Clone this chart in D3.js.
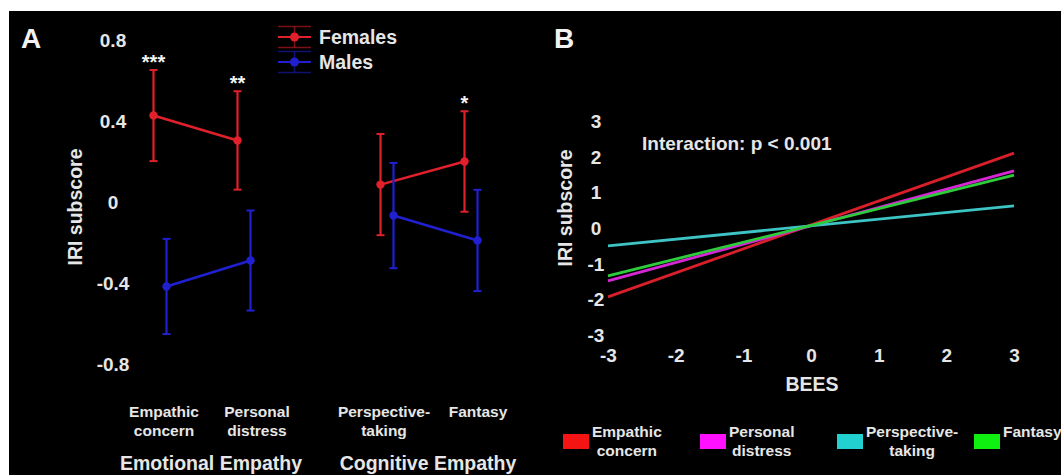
<!DOCTYPE html>
<html>
<head>
<meta charset="utf-8">
<script src="https://cdn.jsdelivr.net/npm/d3@7"></script>
<style>
  html, body { margin: 0; padding: 0; background: #fff; }
  svg text { font-family: 'Liberation Sans', Arial, sans-serif; font-weight: bold; fill: #e6e6e6; }
</style>
</head>
<body>
<svg id="chart" width="1061" height="475"></svg>
<script>
// panel A data
const categories = ['Empathic concern', 'Personal distress', 'Perspective-taking', 'Fantasy'];
const categoryLines = [['Empathic', 'concern'], ['Personal', 'distress'], ['Perspective-', 'taking'], ['Fantasy']];
const categoryGroup = ['Emotional Empathy', 'Emotional Empathy', 'Cognitive Empathy', 'Cognitive Empathy'];
const groups = ['Emotional Empathy', 'Cognitive Empathy'];
const femaleMeans = [0.427, 0.304, 0.086, 0.200];
const femaleErr = [0.225, 0.243, 0.250, 0.248];
const maleMeans = [-0.417, -0.289, -0.067, -0.190];
const maleErr = [0.235, 0.247, 0.260, 0.250];
const stars = ['***', '**', '', '*'];
const yTicksA = [0.8, 0.4, 0, -0.4, -0.8];

// panel B data
const beesRange = [-3, 3];
const subscales = ['Empathic concern', 'Personal distress', 'Perspective-taking', 'Fantasy'];
const subscaleLines = [['Empathic', 'concern'], ['Personal', 'distress'], ['Perspective-', 'taking'], ['Fantasy']];
const fitStart = [-1.93, -1.48, -0.50, -1.34];
const fitEnd = [2.10, 1.60, 0.62, 1.48];
const lineColors = ['#d81f2a', '#d626d6', '#3ec4c4', '#2ccc3a'];
const swatchColors = ['#f41414', '#ff10ff', '#22d0d0', '#10f010'];
const xTicksB = [-3, -2, -1, 0, 1, 2, 3];
const yTicksB = [3, 2, 1, 0, -1, -2, -3];

const svg = d3.select('#chart');
svg.append('rect').attr('width', 1061).attr('height', 475).attr('fill', '#fff');
svg.append('rect').attr('x', 9).attr('y', 11).attr('width', 1052).attr('height', 464).attr('fill', '#000');

const red = '#e0202a';
const blue = '#2020d0';
// plain hyphen for negatives, as in the figure
const hyphen = (f) => (d) => f(d).replace('\u2212', '-');

// ---------- panel A ----------
const yA = d3.scaleLinear().domain([-0.8, 0.8]).range([364, 40]);
const xGroup = d3.scalePoint().domain(groups).range([202, 429]);
const xInner = d3.scalePoint().domain([0, 1]).range([-42, 42]);
const xCat = (i) => xGroup(categoryGroup[i]) + xInner(groups.indexOf(categoryGroup[i]) === 0 ? i : i - 2);
const sexOffset = 6.5;

svg.append('text').attr('x', 21).attr('y', 48).style('font-size', '28px').style('fill', '#f2f2f2').text('A');

const axisA = svg.append('g')
  .attr('transform', 'translate(113,0)')
  .call(d3.axisLeft(yA).tickValues(yTicksA).tickSize(0).tickPadding(0)
    .tickFormat(hyphen((d) => d === 0 ? '0' : d3.format('.1f')(d))));
axisA.select('.domain').remove();
axisA.selectAll('text')
  .attr('text-anchor', 'middle')
  .attr('x', 0)
  .attr('dy', '0.35em')
  .style('font-size', '19px')
  .attr('fill', null);

svg.append('text')
  .attr('transform', 'translate(82,207) rotate(-90)')
  .attr('text-anchor', 'middle')
  .style('font-size', '19.5px')
  .text('IRI subscore');

function drawSeries(means, errs, offset, color) {
  const g = svg.append('g');
  const pts = means.map((m, i) => ({ x: xCat(i) + offset, m: m, e: errs[i], i: i }));
  // lines within each group
  groups.forEach((grp) => {
    const seg = pts.filter((p) => categoryGroup[p.i] === grp);
    g.append('path')
      .datum(seg)
      .attr('d', d3.line().x((p) => p.x).y((p) => yA(p.m)))
      .attr('stroke', color)
      .attr('stroke-width', 2.5)
      .attr('fill', 'none');
  });
  g.selectAll('.eb')
    .data(pts)
    .enter()
    .append('line')
    .attr('x1', (p) => p.x).attr('x2', (p) => p.x)
    .attr('y1', (p) => yA(p.m + p.e)).attr('y2', (p) => yA(p.m - p.e))
    .attr('stroke', color).attr('stroke-width', 2.2);
  [1, -1].forEach((s) => {
    g.selectAll('.cap' + s)
      .data(pts)
      .enter()
      .append('line')
      .attr('x1', (p) => p.x - 4).attr('x2', (p) => p.x + 4)
      .attr('y1', (p) => yA(p.m + s * p.e)).attr('y2', (p) => yA(p.m + s * p.e))
      .attr('stroke', color).attr('stroke-width', 2);
  });
  g.selectAll('circle')
    .data(pts)
    .enter()
    .append('circle')
    .attr('cx', (p) => p.x).attr('cy', (p) => yA(p.m))
    .attr('r', 4.2)
    .attr('fill', color);
}
drawSeries(femaleMeans, femaleErr, -sexOffset, red);
drawSeries(maleMeans, maleErr, sexOffset, blue);

// significance stars
svg.selectAll('.star')
  .data(stars)
  .enter()
  .append('text')
  .attr('x', (d, i) => xCat(i) - sexOffset)
  .attr('y', (d, i) => yA(femaleMeans[i] + femaleErr[i]) - 1)
  .attr('text-anchor', 'middle')
  .style('font-size', '20px')
  .style('fill', '#f4f4f4')
  .text((d) => d);

// category labels
const catOffsets = [4, 13, -3, 7];
categoryLines.forEach((lines, i) => {
  const t = svg.append('text')
    .attr('text-anchor', 'middle')
    .style('font-size', '15.5px');
  lines.forEach((ln, j) => {
    t.append('tspan')
      .attr('x', xCat(i) + catOffsets[i])
      .attr('y', 417 + j * 19)
      .text(ln);
  });
});
groups.forEach((grp, i) => {
  svg.append('text')
    .attr('x', xGroup(grp) + (i === 0 ? 9 : -1))
    .attr('y', 470)
    .attr('text-anchor', 'middle')
    .style('font-size', '19.5px')
    .text(grp);
});

// legend A
const legendA = [{ label: 'Females', color: red, y: 37 }, { label: 'Males', color: blue, y: 62 }];
legendA.forEach((d) => {
  const g = svg.append('g');
  g.append('line').attr('x1', 278).attr('x2', 311).attr('y1', d.y).attr('y2', d.y).attr('stroke', d.color).attr('stroke-width', 2.2);
  [-10.5, 10.5].forEach((o) => {
    g.append('line').attr('x1', 278).attr('x2', 311).attr('y1', d.y + o).attr('y2', d.y + o)
      .attr('stroke', d.color).attr('stroke-width', 1.5).attr('opacity', 0.55);
  });
  g.append('line').attr('x1', 294.5).attr('x2', 294.5).attr('y1', d.y - 10.5).attr('y2', d.y + 10.5)
    .attr('stroke', d.color).attr('stroke-width', 1.5).attr('opacity', 0.55);
  g.append('circle').attr('cx', 294.5).attr('cy', d.y).attr('r', 4.5).attr('fill', d.color);
  g.append('text').attr('x', 319).attr('y', d.y + 7).style('font-size', '19.5px').text(d.label);
});

// ---------- panel B ----------
const xB = d3.scaleLinear().domain([-3, 3]).range([608, 1014]);
const yB = d3.scaleLinear().domain([-3, 3]).range([335, 121]);

svg.append('text').attr('x', 554).attr('y', 48).style('font-size', '28px').style('fill', '#f2f2f2').text('B');

const axisBy = svg.append('g')
  .attr('transform', 'translate(596,0)')
  .call(d3.axisLeft(yB).tickValues(yTicksB).tickSize(0).tickPadding(0).tickFormat(hyphen(d3.format('d'))));
axisBy.select('.domain').remove();
axisBy.selectAll('text')
  .attr('text-anchor', 'middle')
  .attr('x', 0)
  .attr('dy', '0.35em')
  .style('font-size', '19px')
  .attr('fill', null);

const axisBx = svg.append('g')
  .attr('transform', 'translate(0,355)')
  .call(d3.axisBottom(xB).tickValues(xTicksB).tickSize(0).tickPadding(0).tickFormat(hyphen(d3.format('d'))));
axisBx.select('.domain').remove();
axisBx.selectAll('text')
  .attr('y', 0)
  .attr('dy', '0.35em')
  .style('font-size', '19px')
  .attr('fill', null);

svg.append('text')
  .attr('transform', 'translate(572,208) rotate(-90)')
  .attr('text-anchor', 'middle')
  .style('font-size', '19.5px')
  .text('IRI subscore');

svg.append('text')
  .attr('x', xB(0) + 1)
  .attr('y', 391)
  .attr('text-anchor', 'middle')
  .style('font-size', '19.5px')
  .text('BEES');

svg.append('text')
  .attr('x', 642)
  .attr('y', 150)
  .style('font-size', '19px')
  .text('Interaction: p < 0.001');

const fits = subscales.map((s, i) => ({ name: s, pts: [[beesRange[0], fitStart[i]], [beesRange[1], fitEnd[i]]], color: lineColors[i] }));
const drawOrder = [0, 1, 2, 3];
drawOrder.forEach((i) => {
  svg.append('path')
    .datum(fits[i].pts)
    .attr('d', d3.line().x((d) => xB(d[0])).y((d) => yB(d[1])))
    .attr('stroke', fits[i].color)
    .attr('stroke-width', 2.8)
    .attr('fill', 'none');
});

// legend B
const legendX = d3.scalePoint().domain(subscales).range([563, 974]);
subscales.forEach((s, i) => {
  const x0 = legendX(s);
  svg.append('rect')
    .attr('x', x0).attr('y', 434)
    .attr('width', 26).attr('height', 15)
    .attr('fill', swatchColors[i]);
  const first = svg.append('text')
    .attr('x', x0 + 29)
    .attr('y', 437)
    .style('font-size', '15.5px')
    .text(subscaleLines[i][0]);
  if (subscaleLines[i].length > 1) {
    const w = first.node().getComputedTextLength();
    svg.append('text')
      .attr('x', x0 + 29 + w / 2)
      .attr('y', 456)
      .attr('text-anchor', 'middle')
      .style('font-size', '15.5px')
      .text(subscaleLines[i][1]);
  }
});
</script>
</body>
</html>
